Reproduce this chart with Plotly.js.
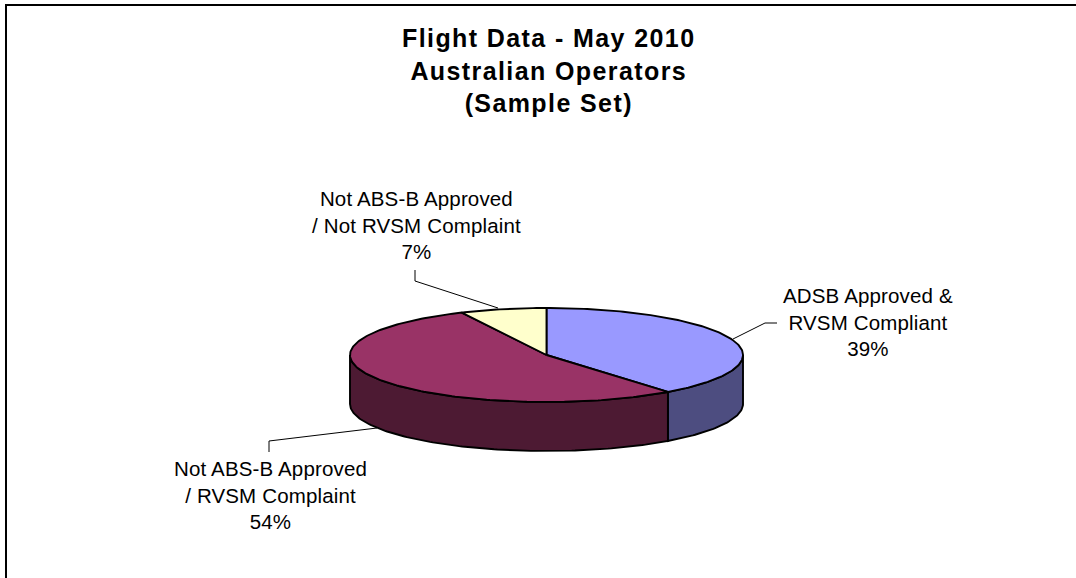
<!DOCTYPE html>
<html>
<head>
<meta charset="utf-8">
<script src="https://cdn.plot.ly/plotly-3.0.1.min.js"></script>
<style>
html,body{margin:0;padding:0;background:#fff;overflow:hidden}
#chart{width:1076px;height:578px}
.gtitle{letter-spacing:1.4px}
.annotation-text{letter-spacing:0.15px}
</style>
</head>
<body>
<div id="chart"></div>
<script>
// Data (slice sizes estimated from the drawn angles; labels show them rounded)
var sliceLabels = ["ADSB Approved &<br>RVSM Compliant", "Not ABS-B Approved<br>/ RVSM Complaint", "Not ABS-B Approved<br>/ Not RVSM Complaint"];
var sliceValues = [39.4, 53.5, 7.1];
var topColors = ["#9999FF", "#993366", "#FFFFCC"];
var sideColors = ["#4D4D80", "#4D1A33", "#80806A"];
var titleLines = ["Flight Data - May 2010", "Australian Operators", "(Sample Set)"];
var labelX = [868, 270, 416];
var labelY = [322, 495, 225];
var leaderX = [[777, 765, 733], [269, 269, 377], [415, 415, 498]];
var leaderY = [[323, 323, 339], [452, 441, 428], [270, 281, 308]];

// Pie projection (axes below run in 1076 x 578 units)
var cx = 546.5, cy = 355, rx = 196.5, ry = 47, depth = 49;
function px(deg){ return cx + rx * Math.sin(deg * Math.PI / 180); }
function py(deg){ return cy - ry * Math.cos(deg * Math.PI / 180); }
function range(a, b){ var o = [], n = Math.max(2, Math.ceil(Math.abs(b - a))); for (var i = 0; i <= n; i++) o.push(a + (b - a) * i / n); return o; }

var traces = [];
var outline = {color: "#000000", width: 1.9};

function poly(xs, ys, fill, name){
  traces.push({type: "scatter", mode: "lines", x: xs, y: ys, fill: "toself", fillcolor: fill,
    line: outline, name: name, hoverinfo: "name", showlegend: false});
}

var total = sliceValues.reduce(function(s, v){ return s + v; }, 0);
var start = 0, sectors = [];
sliceValues.forEach(function(v, i){
  var end = start + v / total * 360;
  sectors.push([start, end, i]);
  start = end;
});

// Side walls: only the part of each slice facing the viewer (90 to 270 degrees)
sectors.forEach(function(s){
  var a = Math.max(s[0], 90), b = Math.min(s[1], 270);
  if (b <= a) return;
  var arc = range(a, b);
  var xs = arc.map(px), ys = arc.map(py);
  var xb = arc.slice().reverse().map(px), yb = arc.slice().reverse().map(function(d){ return py(d) + depth; });
  poly(xs.concat(xb, [xs[0]]), ys.concat(yb, [ys[0]]), sideColors[s[2]], "side");
});

// Top faces
sectors.forEach(function(s){
  var arc = range(s[0], s[1]);
  poly([cx].concat(arc.map(px), [cx]), [cy].concat(arc.map(py), [cy]), topColors[s[2]],
       sliceLabels[s[2]].replace("<br>", " ") + ": " + Math.round(sliceValues[s[2]]) + "%");
});

// Leader lines
leaderX.forEach(function(xs, i){
  traces.push({type: "scatter", mode: "lines", x: xs, y: leaderY[i], line: {color: "#000000", width: 1},
    hoverinfo: "skip", showlegend: false});
});

var labelAnnotations = sliceLabels.map(function(t, i){
  return {x: labelX[i], y: labelY[i], xref: "x", yref: "y", text: t + "<br>" + Math.round(sliceValues[i]) + "%",
    showarrow: false, xanchor: "center", yanchor: "middle", align: "center",
    font: {family: "Liberation Sans, Arial, sans-serif", size: 20.5, color: "#000000"}};
});

var layout = {
  width: 1076, height: 578,
  margin: {l: 0, r: 0, t: 0, b: 0},
  paper_bgcolor: "#ffffff", plot_bgcolor: "#ffffff",
  showlegend: false,
  title: {text: titleLines.join("<br>"), x: 0.51, xanchor: "center", y: 0.918, yanchor: "middle",
    font: {family: "Liberation Sans, Arial, sans-serif", size: 25, color: "#000000", weight: "bold"}},
  xaxis: {range: [0, 1076], visible: false, fixedrange: true},
  yaxis: {range: [578, 0], visible: false, fixedrange: true},
  annotations: labelAnnotations,
  shapes: [
    {type: "line", xref: "x", yref: "y", x0: 6, x1: 6, y0: 5, y1: 578, line: {color: "#000000", width: 2}, layer: "below"},
    {type: "line", xref: "x", yref: "y", x0: 5, x1: 1076, y0: 5, y1: 5, line: {color: "#000000", width: 2}, layer: "below"}
  ]
};

Plotly.newPlot("chart", traces, layout, {displayModeBar: false});
</script>
</body>
</html>
